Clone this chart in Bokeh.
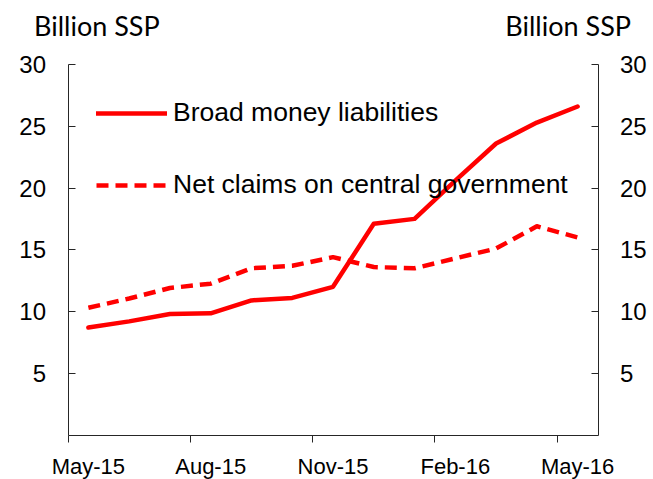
import numpy as np
from bokeh.plotting import figure
from bokeh.models import (LinearAxis, FixedTicker, Range1d, Label, Legend, LegendItem,
                          ColumnDataSource)
from bokeh.embed import file_html
from bokeh.resources import INLINE

# ---- data ----
months = ["May-15", "Jun-15", "Jul-15", "Aug-15", "Sep-15", "Oct-15", "Nov-15",
          "Dec-15", "Jan-16", "Feb-16", "Mar-16", "Apr-16", "May-16"]
broad_money = [8.7, 9.2, 9.8, 9.85, 10.9, 11.1, 12.0, 17.1, 17.5, 20.6, 23.6, 25.3, 26.6]
net_claims = [10.3, 11.05, 11.9, 12.25, 13.5, 13.7, 14.4, 13.6, 13.5, 14.3, 15.1, 16.9, 16.0]
y_ticks = [5, 10, 15, 20, 25, 30]
x_tick_idx = [0, 3, 6, 9, 12]
unit_label = "Billion SSP"
series_names = ["Broad money liabilities", "Net claims on central government"]

# ---- layout (pixels) ----
W, H = 653, 479
PX_LEFT, PX_RIGHT, PX_TOP, PX_BOTTOM = 67.5, 597.5, 64.0, 434.5
n = len(months)
y_lo, y_hi = 0, 30
kx = (PX_RIGHT - PX_LEFT) / n
ky = (PX_BOTTOM - PX_TOP) / (y_hi - y_lo)
xr = Range1d(-PX_LEFT / kx, n + (W - PX_RIGHT) / kx)
yr_ = Range1d(y_lo - (H - PX_BOTTOM) / ky, y_hi + PX_TOP / ky)

# month slots: each value sits in the middle of its month
x = np.arange(n) + 0.5
src = ColumnDataSource(dict(x=x, broad=broad_money, net=net_claims))

p = figure(width=W, height=H, output_backend="svg", toolbar_location=None,
           x_range=xr, y_range=yr_,
           min_border=0, min_border_left=0, min_border_right=0,
           min_border_top=0, min_border_bottom=0,
           y_axis_location=None, x_axis_location=None)
p.outline_line_color = None
p.xgrid.visible = False
p.ygrid.visible = False
p.background_fill_color = "white"
p.border_fill_color = "white"

axis_col = "#262626"
tick_font = "Liberation Sans"

def style_y(ax):
    ax.ticker = FixedTicker(ticks=y_ticks)
    ax.bounds = (y_lo, y_hi)
    ax.major_tick_in = 7
    ax.major_tick_out = 0
    ax.minor_tick_line_color = None
    ax.axis_line_color = axis_col
    ax.major_tick_line_color = axis_col
    ax.major_label_text_font = tick_font
    ax.major_label_text_font_size = "24px"
    ax.major_label_text_color = "black"
    ax.major_label_standoff = 22

yl = LinearAxis(fixed_location=0)
style_y(yl)
p.add_layout(yl, "left")
yr = LinearAxis(fixed_location=n)
style_y(yr)
p.add_layout(yr, "right")

# labels centred on the month slot, tick marks at month boundaries
label_pos = [i + 0.5 for i in x_tick_idx]
xa = LinearAxis(fixed_location=y_lo)
xa.bounds = (0, n)
xa.ticker = FixedTicker(ticks=label_pos, minor_ticks=x_tick_idx)
xa.major_label_overrides = {i + 0.5: months[i] for i in x_tick_idx}
xa.major_tick_in = 0
xa.major_tick_out = 0
xa.major_tick_line_color = None
xa.minor_tick_in = 0
xa.minor_tick_out = 7
xa.minor_tick_line_color = axis_col
xa.axis_line_color = axis_col
xa.major_label_text_font = tick_font
xa.major_label_text_font_size = "22px"
xa.major_label_text_color = "black"
xa.major_label_standoff = 12
p.add_layout(xa, "below")

r1 = p.line("x", "broad", source=src, line_color="#FF0000", line_width=4.5,
            line_join="round", line_cap="round")
r2 = p.line("x", "net", source=src, line_color="#FF0000", line_width=4.5,
            line_dash="12 7", line_join="round")

legend = Legend(items=[LegendItem(label=series_names[0], renderers=[r1]),
                       LegendItem(label=series_names[1], renderers=[r2])],
                location=(96, 279), glyph_width=71, glyph_height=30, label_height=30,
                spacing=41, padding=0, margin=0, border_line_color=None,
                background_fill_alpha=0, label_text_font=tick_font,
                label_text_font_size="26.5px", label_standoff=6, label_text_color="black")
p.add_layout(legend, "center")

p.add_layout(Label(x=0, y=y_hi, x_offset=-34, y_offset=39, text=unit_label,
                   text_font="Lato", text_font_size="27px", text_align="left",
                   text_baseline="alphabetic", text_color="black"))
p.add_layout(Label(x=n, y=y_hi, x_offset=33, y_offset=39, text=unit_label,
                   text_font="Lato", text_font_size="27px", text_align="right",
                   text_baseline="alphabetic", text_color="black"))

open("out.html", "w").write(file_html(p, INLINE))
